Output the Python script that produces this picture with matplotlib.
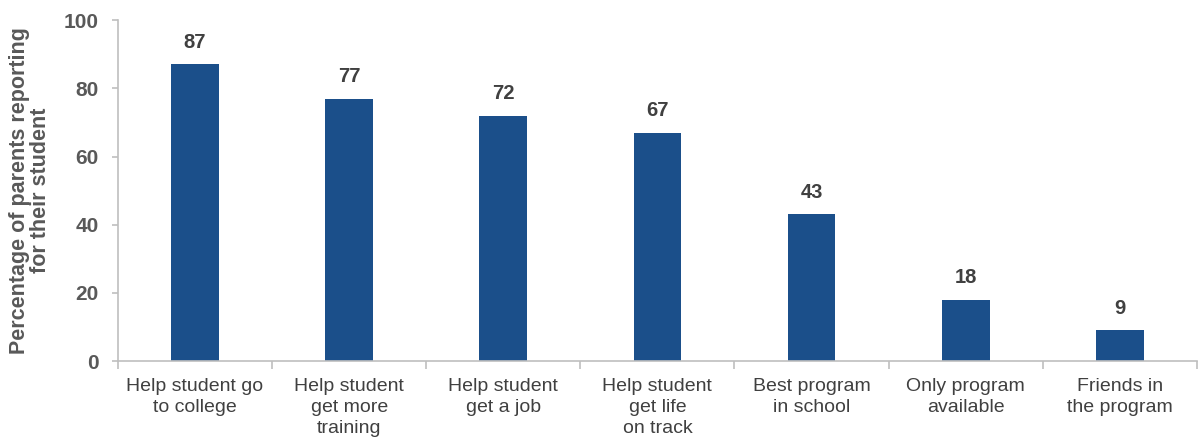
import matplotlib.pyplot as plt
import numpy as np

categories = [
    "Help student go\nto college",
    "Help student\nget more\ntraining",
    "Help student\nget a job",
    "Help student\nget life\non track",
    "Best program\nin school",
    "Only program\navailable",
    "Friends in\nthe program",
]
values = [87, 77, 72, 67, 43, 18, 9]

bar_color = "#1B4F8A"
text_color = "#404040"
tick_color = "#595959"
axis_color = "#BFBFBF"

plt.rcParams["font.family"] = ["Liberation Sans", "DejaVu Sans"]

fig = plt.figure(figsize=(11.98, 4.48), dpi=100)
ax = fig.add_axes([0.0985, 0.194, 0.9005, 0.761])

x = np.arange(len(values))
ax.bar(x, values, width=0.31, color=bar_color, zorder=2)

for xi, v in zip(x, values):
    ax.annotate(str(v), (xi, v), xytext=(0, 9), textcoords="offset points",
                ha="center", va="bottom", fontsize=14.5, fontweight="bold",
                color=text_color)

ax.set_xlim(-0.5, len(values) - 0.5)
ax.set_ylim(0, 100)
ax.set_yticks(np.arange(0, 101, 20))

ax.spines["right"].set_visible(False)
ax.spines["top"].set_visible(False)
ax.spines["left"].set_color(axis_color)
ax.spines["bottom"].set_color(axis_color)
ax.spines["left"].set_linewidth(1.2)
ax.spines["bottom"].set_linewidth(1.2)

ax.set_xticks(x)
ax.set_xticklabels(categories, fontsize=14, color=text_color, linespacing=1.3)
ax.set_xticks(np.arange(-0.5, len(values), 1.0), minor=True)
ax.tick_params(axis="x", which="major", length=0, pad=12)
ax.tick_params(axis="x", which="minor", length=6, color=axis_color, width=1.2)

for lbl in ax.get_yticklabels():
    lbl.set_fontweight("bold")
ax.tick_params(axis="y", length=4, color=axis_color, width=1.2, labelsize=15,
               labelcolor=tick_color, pad=10)

ax.set_ylabel("Percentage of parents reporting\nfor their student", fontsize=15.5,
              fontweight="bold", color=tick_color, linespacing=1.0, labelpad=9)

fig.savefig("out.png", dpi=100)
